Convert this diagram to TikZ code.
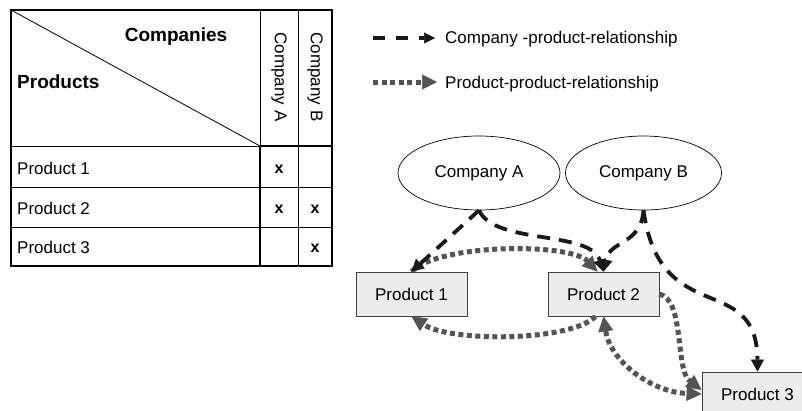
\documentclass[tikz,border=0pt]{standalone}
\usepackage{fontspec}
\setmainfont{Liberation Sans}
\usetikzlibrary{arrows.meta,shapes.geometric,calc}

\begin{document}
\begin{tikzpicture}[x=1pt,y=-1pt,
  every node/.style={font=\fontsize{17}{20}\selectfont, inner sep=0pt},
  hdr/.style={font=\fontsize{19}{22}\selectfont\bfseries},
  xmark/.style={font=\fontsize{16}{19}\selectfont\bfseries, anchor=base},
  thinrule/.style={line width=0.8pt},
  thickrule/.style={line width=2.6pt},
  company/.style={draw, line width=0.7pt, ellipse, minimum width=162pt, minimum height=74pt},
  product/.style={draw=black!75, line width=0.8pt, fill=gray!15, minimum width=111pt, minimum height=44pt},
  cprel/.style={draw=black!90, line width=3.8pt, dash pattern=on 13pt off 9pt,
    -{Triangle[length=12pt,width=13pt,line width=0.5pt]}},
  pprel/.style={draw=black!67, line width=5pt, dash pattern=on 5pt off 3.5pt,
    -{Triangle[length=15pt,width=15pt,line width=0.5pt]}},
  pprelboth/.style={pprel, {Triangle[length=15pt,width=15pt,line width=0.5pt]}-{Triangle[length=15pt,width=15pt,line width=0.5pt]}},
]
\useasboundingbox (0,0) rectangle (802,410);
\fill[white] (0,0) rectangle (802,410);
\clip (0,0) rectangle (802,410);

% ---- table ----
\draw[thinrule] (11,10) -- (260,146);
\draw[thinrule] (11,146) -- (260,146);
\draw[thinrule] (260,10) -- (260,146);
\draw[thinrule] (298,10) -- (298,266);
\draw[thinrule] (11,187) -- (332,187) (11,227) -- (332,227);
\draw[line width=2.2pt] (11,10) rectangle (332,266);
\draw[thickrule] (260,146) rectangle (332,266);

\node[hdr, anchor=base] (companies) at (176,41) {Companies};
\node[hdr, anchor=base west] (products) at (17,88) {Products};
\node[rotate=-90] (colA) at (279,77) {Company A};
\node[rotate=-90] (colB) at (315,77) {Company B};

\node[anchor=base west] (row1) at (17,174) {Product 1};
\node[anchor=base west] (row2) at (17,214) {Product 2};
\node[anchor=base west] (row3) at (17,253) {Product 3};
\node[xmark] (m1a) at (279,173) {x};
\node[xmark] (m2a) at (279,213) {x};
\node[xmark] (m2b) at (315,213) {x};
\node[xmark] (m3b) at (315,252) {x};

% ---- legend ----
\coordinate (lgA1) at (373,38);
\coordinate (lgA2) at (435,38);
\coordinate (lgB1) at (373,82);
\coordinate (lgB2) at (437,82);
\draw[cprel, dash pattern=on 12pt off 11pt, line width=3.6pt,
  -{Triangle[length=11pt,width=11pt,line width=0.5pt]}] (lgA1) -- (lgA2);
\draw[pprel] (lgB1) -- (lgB2);
\node[anchor=base west] (lgtA) at (445,43) {Company -product-relationship};
\node[anchor=base west] (lgtB) at (445,88) {Product-product-relationship};

% ---- graph ----
\node[company] (cA) at (479,173) {Company A};
\node[company, minimum width=156pt] (cB) at (643.5,173) {Company B};
\node[product] (p1) at (411.5,294) {Product 1};
\node[product] (p2) at (603.5,294) {Product 2};
\node[product] (p3) at (757.5,394) {Product 3};

% product-product relationships
\draw[pprel] (p1.north) .. controls (440,243) and (570,243) .. ($(p2.north)+(-6,0)$);
\draw[pprel] ($(p2.south)+(-8,0)$) .. controls (570,342) and (450,342) .. (p1.south);
\draw[pprelboth] (p2.south) .. controls (610,360) and (650,392) .. (p3.west);
\draw[pprel] (p2.east) .. controls (685,300) and (675,370) .. ($(p3.west)+(0,-4)$);

% company-product relationships
\draw[cprel] (cA.south) -- (p1.north);
\draw[cprel] (cA.south) .. controls (495,245) and (590,230) .. (p2.north);
\draw[cprel] (cB.south) .. controls (641,245) and (610,240) .. (p2.north);
\draw[cprel] (cB.south) .. controls (660,330) and (757,270) .. (p3.north);
\end{tikzpicture}
\end{document}
